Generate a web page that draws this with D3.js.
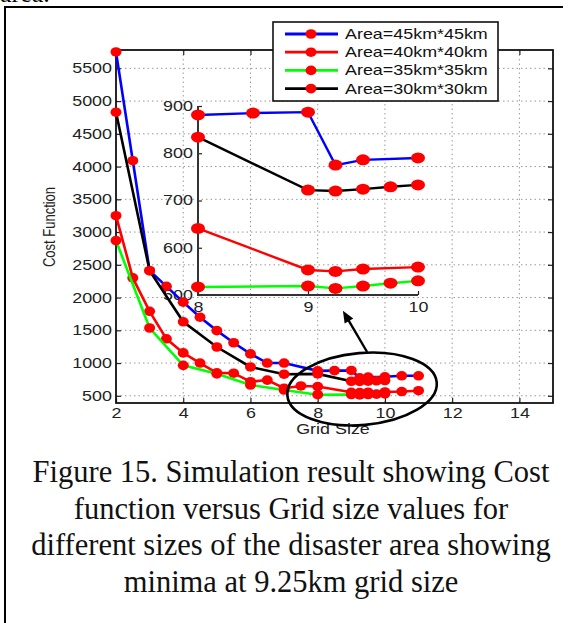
<!DOCTYPE html>
<html>
<head>
<meta charset="utf-8">
<script src="https://cdn.jsdelivr.net/npm/d3@7"></script>
<style>
  body { margin: 0; background: #fff; }
  svg { display: block; }
</style>
</head>
<body>
<div id="chart"></div>
<script>
// grid size (km) and cost function values, one pair of arrays per disaster area
const grid45 = [2, 2.5, 3, 3.5, 4, 4.5, 5, 5.5, 6, 6.5, 7, 8, 8.5, 9, 9.25, 9.5, 10, 10.5, 11];
const cost45 = [5750, 4090, 2410, 2170, 1930, 1700, 1495, 1310, 1140, 1000, 1000, 881, 885, 887, 775, 786, 790, 805, 805];

const grid40 = [2, 2.5, 3, 3.5, 4, 4.5, 5, 5.5, 6, 6.5, 7, 7.5, 8, 9, 9.25, 9.5, 10, 10.5, 11];
const cost40 = [3250, 2300, 1790, 1370, 1155, 1000, 850, 845, 715, 740, 615, 650, 641, 553, 550, 555, 559, 565, 578];

const grid35 = [2, 3, 4, 5, 6, 7, 8, 9, 9.25, 9.5, 9.75, 10];
const cost35 = [2870, 1535, 965, 835, 665, 588, 517, 519, 514, 519, 525, 530];

const grid30 = [2, 3, 4, 5, 6, 7, 8, 9, 9.25, 9.5, 9.75, 10];
const cost30 = [4830, 2410, 1630, 1245, 940, 830, 834, 722, 720, 724, 729, 733];

const legendLabels = ["Area=45km*45km", "Area=40km*40km", "Area=35km*35km", "Area=30km*30km"];
const seriesColors = ["#0000ff", "#ff0000", "#00ff00", "#000000"];

const xTicks = [2, 4, 6, 8, 10, 12, 14];
const yTicks = [500, 1000, 1500, 2000, 2500, 3000, 3500, 4000, 4500, 5000, 5500];
const insetXTicks = [8, 9, 10];
const insetYTicks = [500, 600, 700, 800, 900];

const captionLines = [
  "Figure 15. Simulation result showing Cost",
  "function versus Grid size values for",
  "different sizes of the disaster area showing",
  "minima at 9.25km grid size"
];

const series = [
  { x: grid45, y: cost45 },
  { x: grid40, y: cost40 },
  { x: grid35, y: cost35 },
  { x: grid30, y: cost30 }
].map((s, i) => ({
  label: legendLabels[i],
  color: seriesColors[i],
  points: s.x.map((g, j) => ({ g: g, c: s.y[j] }))
}));

const W = 571, H = 623;
const SX = 1.28;            // the scanned figure is stretched sideways
const sans = "'Liberation Sans', Arial, sans-serif";
const inkColor = "#222";

const svg = d3.select("#chart").append("svg").attr("width", W).attr("height", H);

// page frame and cut-off text from the previous line
svg.append("text").attr("x", 0).attr("y", 2)
  .style("font-family", "'Liberation Serif', serif").style("font-size", "26px")
  .text("area.");
svg.append("path").attr("d", "M5,623V7H563")
  .attr("fill", "none").attr("stroke", "#000").attr("stroke-width", 2);

// ---------- main axes ----------
const x = d3.scaleLinear().domain([2, 15]).range([116, 553]);
const y = d3.scaleLinear().domain([390, 5780]).range([403, 50]);

const grid = svg.append("g").attr("stroke", "#999").attr("stroke-width", 1)
  .attr("stroke-dasharray", "1.5,3");
grid.selectAll("line.vx").data(xTicks.slice(1)).enter().append("line")
  .attr("x1", d => x(d)).attr("x2", d => x(d)).attr("y1", y.range()[1]).attr("y2", y.range()[0]);
grid.selectAll("line.hy").data(yTicks).enter().append("line")
  .attr("y1", d => y(d)).attr("y2", d => y(d)).attr("x1", x.range()[0]).attr("x2", x.range()[1]);

function styleAxis(g) {
  g.select(".domain").remove();
  g.selectAll(".tick line").attr("stroke", inkColor).attr("stroke-width", 1.2);
  g.selectAll(".tick text").attr("fill", inkColor)
    .style("font-family", sans).style("font-size", "14px");
}

const xAxis = svg.append("g").attr("transform", "translate(0," + y.range()[0] + ")")
  .call(d3.axisBottom(x).tickValues(xTicks).tickSize(-5).tickPadding(5).tickFormat(d3.format("d")))
  .call(styleAxis);
xAxis.selectAll(".tick text").attr("transform", "scale(" + SX + ",1)");

const yAxis = svg.append("g").attr("transform", "translate(" + x.range()[0] + ",0)")
  .call(d3.axisLeft(y).tickValues(yTicks).tickSize(-5).tickPadding(0).tickFormat(d3.format("d")))
  .call(styleAxis);
yAxis.selectAll(".tick text").attr("x", null).attr("transform", "translate(-4,0) scale(" + SX + ",1)");

svg.append("g").attr("transform", "translate(" + x.range()[1] + ",0)")
  .call(d3.axisRight(y).tickValues(yTicks).tickSize(-5).tickFormat(""))
  .call(styleAxis);
svg.append("g").attr("transform", "translate(0," + y.range()[1] + ")")
  .call(d3.axisTop(x).tickValues(xTicks).tickSize(-5).tickFormat(""))
  .call(styleAxis);

svg.append("rect")
  .attr("x", x.range()[0]).attr("y", y.range()[1])
  .attr("width", x.range()[1] - x.range()[0]).attr("height", y.range()[0] - y.range()[1])
  .attr("fill", "none").attr("stroke", "#111").attr("stroke-width", 1.8);

svg.append("text")
  .attr("transform", "translate(333,434) scale(" + SX + ",1)")
  .attr("text-anchor", "middle").attr("fill", inkColor)
  .style("font-family", sans).style("font-size", "14px")
  .text("Grid Size");
svg.append("text")
  .attr("transform", "translate(55,227) scale(" + SX + ",1) rotate(-90)")
  .attr("text-anchor", "middle").attr("fill", inkColor)
  .style("font-family", sans).style("font-size", "13px")
  .text("Cost Function");

// ---------- inset (zoom on 8..10 km) ----------
const ix = d3.scaleLinear().domain([8, 10]).range([198, 418]);
const iy = d3.scaleLinear().domain([500, 900]).range([295, 106]);

const ixAxis = svg.append("g").attr("transform", "translate(0," + iy.range()[0] + ")")
  .call(d3.axisBottom(ix).tickValues(insetXTicks).tickSize(-4).tickPadding(7).tickFormat(d3.format("d")))
  .call(styleAxis);
ixAxis.selectAll(".tick text").attr("transform", "scale(" + SX + ",1)");

const iyAxis = svg.append("g").attr("transform", "translate(" + ix.range()[0] + ",0)")
  .call(d3.axisLeft(iy).tickValues(insetYTicks).tickSize(-4).tickPadding(0).tickFormat(d3.format("d")))
  .call(styleAxis);
iyAxis.selectAll(".tick text").attr("x", null).attr("transform", "translate(-5,0) scale(" + SX + ",1)");

svg.append("path")
  .attr("d", "M" + ix.range()[0] + "," + iy.range()[1] + "V" + iy.range()[0] + "H" + ix.range()[1])
  .attr("fill", "none").attr("stroke", "#333").attr("stroke-width", 2);

const insetLine = d3.line().x(d => ix(d.g)).y(d => iy(d.c));
series.forEach((s, i) => {
  const pts = s.points.filter(p => p.g >= 8 && p.g <= 10);
  svg.append("path").attr("d", insetLine(pts))
    .attr("fill", "none").attr("stroke", s.color).attr("stroke-width", 2.4);
  svg.selectAll("ellipse.in" + i).data(pts).enter().append("ellipse")
    .attr("class", "in" + i)
    .attr("cx", d => ix(d.g)).attr("cy", d => iy(d.c))
    .attr("rx", 7).attr("ry", 5.5).attr("fill", "#ff0000");
});

// ---------- main series ----------
const mainLine = d3.line().x(d => x(d.g)).y(d => y(d.c));
series.forEach((s, i) => {
  svg.append("path").attr("d", mainLine(s.points))
    .attr("fill", "none").attr("stroke", s.color).attr("stroke-width", 2.6);
  svg.selectAll("ellipse.m" + i).data(s.points).enter().append("ellipse")
    .attr("class", "m" + i)
    .attr("cx", d => x(d.g)).attr("cy", d => y(d.c))
    .attr("rx", 5.5).attr("ry", 4.8).attr("fill", "#ff0000");
});

// ---------- annotation: circled minima and arrow to the inset ----------
const ell = { g: 9.32, c: 604, rg: 2.23, rc: 550 };
svg.append("ellipse")
  .attr("transform", "translate(" + x(ell.g) + "," + y(ell.c) + ") rotate(-5)")
  .attr("rx", x(ell.g + ell.rg) - x(ell.g)).attr("ry", y(ell.c) - y(ell.c + ell.rc))
  .attr("fill", "none").attr("stroke", "#000").attr("stroke-width", 2.6);

const arrowFrom = { g: 9.47, c: 1169 }, arrowTo = { g: 8.75, c: 1800 };
const ax0 = x(arrowFrom.g), ay0 = y(arrowFrom.c), ax1 = x(arrowTo.g), ay1 = y(arrowTo.c);
const ang = Math.atan2(ay1 - ay0, ax1 - ax0);
svg.append("line").attr("x1", ax0).attr("y1", ay0)
  .attr("x2", ax1 - 8 * Math.cos(ang)).attr("y2", ay1 - 8 * Math.sin(ang))
  .attr("stroke", "#000").attr("stroke-width", 2.4);
svg.append("path")
  .attr("transform", "translate(" + ax1 + "," + ay1 + ") rotate(" + (ang * 180 / Math.PI) + ")")
  .attr("d", "M0,0L-12,-5L-12,5Z").attr("fill", "#000");

// ---------- legend ----------
const legend = svg.append("g").attr("transform", "translate(273,22)");
legend.append("rect").attr("width", 225).attr("height", 79)
  .attr("fill", "#fff").attr("stroke", "#111").attr("stroke-width", 1.6);
const rows = legend.selectAll("g.row").data(series).enter().append("g")
  .attr("transform", (d, i) => "translate(0," + (12 + i * 18.2) + ")");
rows.append("line").attr("x1", 12).attr("x2", 65)
  .attr("stroke", d => d.color).attr("stroke-width", 2.8);
rows.append("ellipse").attr("cx", 38).attr("rx", 5.5).attr("ry", 4.8).attr("fill", "#ff0000");
rows.append("text")
  .attr("transform", "translate(72,5) scale(" + SX + ",1)")
  .attr("fill", "#111")
  .style("font-family", sans).style("font-size", "14px")
  .text(d => d.label);

// ---------- caption ----------
svg.selectAll("text.caption").data(captionLines).enter().append("text")
  .attr("class", "caption")
  .attr("x", 291).attr("y", (d, i) => 482 + i * 36.5)
  .attr("text-anchor", "middle").attr("fill", "#111")
  .style("font-family", "'Liberation Serif', 'Times New Roman', serif")
  .style("font-size", "30.5px")
  .text(d => d);
</script>
</body>
</html>
